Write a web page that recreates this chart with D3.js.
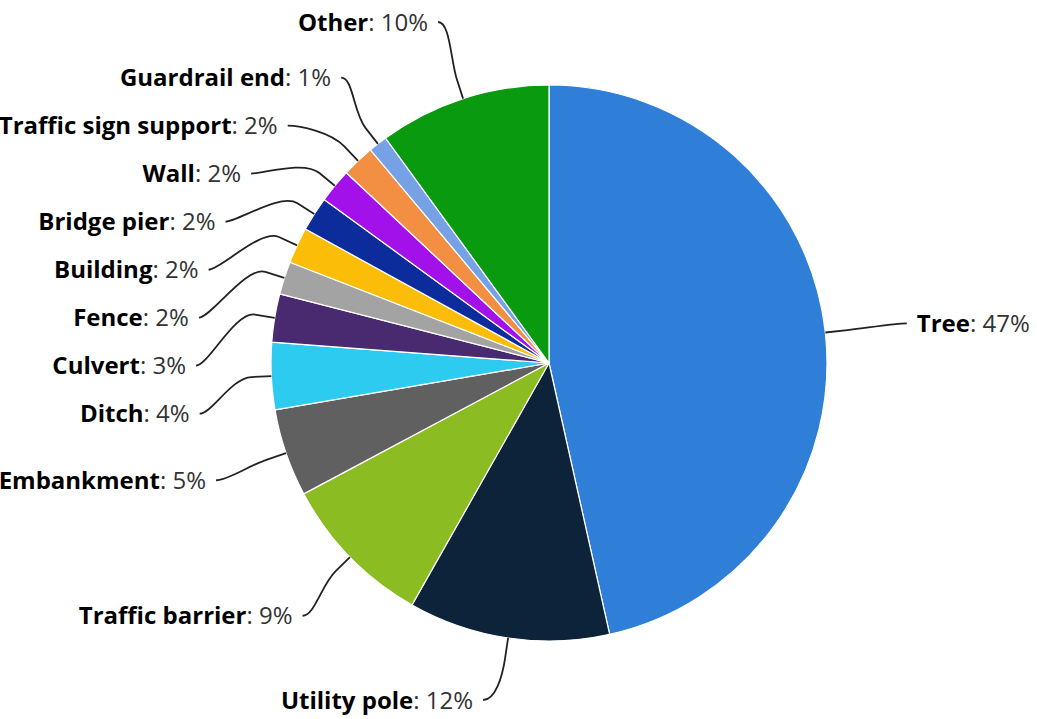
<!DOCTYPE html>
<html>
<head>
<meta charset="utf-8">
<script src="https://cdn.jsdelivr.net/npm/d3@7/dist/d3.min.js"></script>
<style>
  html, body { margin: 0; padding: 0; background: #fff; }
  svg { display: block; }
  text { font-family: "Open Sans", "DejaVu Sans", sans-serif; }
</style>
</head>
<body>
<svg id="chart" width="1037" height="719"></svg>
<script>
// ---- data ----
const categories = ["Tree", "Utility pole", "Traffic barrier", "Embankment", "Ditch", "Culvert",
  "Fence", "Building", "Bridge pier", "Wall", "Traffic sign support", "Guardrail end", "Other"];
const values = [46.5, 11.7, 9.0, 5.1, 3.9, 2.8, 1.9, 2.1, 2.0, 2.0, 1.9, 1.1, 10.0];
const percentLabels = ["47%", "12%", "9%", "5%", "4%", "3%", "2%", "2%", "2%", "2%", "2%", "1%", "10%"];
const colors = ["#2f7ed8", "#0d233a", "#8bbc21", "#606060", "#2ecbf0", "#492970",
  "#a3a3a3", "#fbbd08", "#0b2c9a", "#a311ea", "#f28f43", "#77a1e5", "#0a9a10"];

// ---- layout ----
const W = 1037, H = 719;
const cx = 549, cy = 363, r = 278;
const R = 362;            // label radius (vertical placement)
const Rx = { "1": 360, "-1": 353 };  // label radius for x placement per side
const gap = 48;           // min vertical spacing between labels
const yMin = 22, yMax = 700;
const connOff = 20;
const capDy = 320;        // labels beyond this vertical offset sit near the slice horizontally
const minHoriz = 25;

const svg = d3.select("#chart");
const g = svg.append("g");

const pie = d3.pie().sort(null).value(d => d.value);
const data = categories.map((c, i) => ({ name: c, value: values[i], pct: percentLabels[i], color: colors[i] }));
const arcs = pie(data);
const arc = d3.arc().innerRadius(0).outerRadius(r);

g.selectAll("path.slice").data(arcs).enter().append("path")
  .attr("class", "slice")
  .attr("transform", `translate(${cx},${cy})`)
  .attr("d", arc)
  .attr("fill", d => d.data.color)
  .attr("stroke", "#fff")
  .attr("stroke-width", 1.2)
  .attr("stroke-linejoin", "round");

// label positions
const labels = arcs.map(a => {
  const mid = (a.startAngle + a.endAngle) / 2;
  const sx = Math.sin(mid), sy = -Math.cos(mid);
  return { d: a.data, mid, sx, sy, side: mid < Math.PI ? 1 : -1, y: cy + R * sy };
});

[1, -1].forEach(side => {
  const L = labels.filter(l => l.side === side).sort((a, b) => a.y - b.y);
  for (let i = 0; i < L.length; i++) {
    if (i > 0) L[i].y = Math.max(L[i].y, L[i - 1].y + gap);
    L[i].y = Math.max(yMin, Math.min(yMax, L[i].y));
  }
});

labels.forEach(l => {
  const rr = Rx[String(l.side)];
  const dyAbs = Math.abs(l.y - cy);
  l.ex = cx + r * l.sx; l.ey = cy + r * l.sy;
  if (dyAbs > capDy) {
    l.x = l.ex + l.side * minHoriz;
  } else {
    l.x = cx + l.side * Math.sqrt(Math.max(0, rr * rr - dyAbs * dyAbs));
  }
  l.px = cx + (r + connOff) * l.sx; l.py = cy + (r + connOff) * l.sy;
  l.qx = cx + (r + 2 * connOff) * l.sx; l.qy = cy + (r + 2 * connOff) * l.sy;
});

g.selectAll("path.conn").data(labels).enter().append("path")
  .attr("class", "conn")
  .attr("fill", "none")
  .attr("stroke", "#222")
  .attr("stroke-width", 1.8)
  .attr("d", l => {
    const dir = -l.side;
    return `M${l.x},${l.y} C${l.x + dir * 12},${l.y} ${l.qx},${l.qy} ${l.px},${l.py} L${l.ex},${l.ey}`;
  });

const t = g.selectAll("text.lbl").data(labels).enter().append("text")
  .attr("class", "lbl")
  .attr("x", l => l.x + (l.side === 1 ? 10 : -10))
  .attr("y", l => l.y)
  .attr("dy", "0.36em")
  .attr("text-anchor", l => l.side === 1 ? "start" : "end")
  .attr("font-size", 24);
t.append("tspan").attr("font-weight", "bold").attr("fill", "#000").text(l => l.d.name);
t.append("tspan").attr("fill", "#333").text(l => ": " + l.d.pct);
</script>
</body>
</html>
